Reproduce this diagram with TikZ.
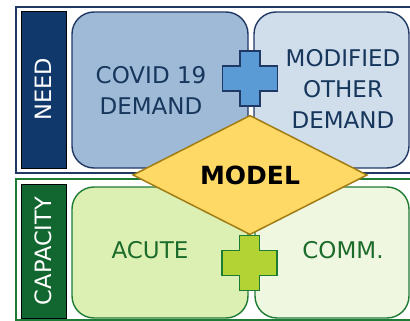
\documentclass[tikz,border=0pt]{standalone}
\usepackage{fontspec}
\setmainfont{DejaVu Sans}
\usetikzlibrary{shapes.geometric}
\definecolor{navyline}{HTML}{1F3864}
\definecolor{navyfill}{HTML}{11386B}
\definecolor{navytext}{HTML}{16365C}
\definecolor{covidfill}{HTML}{9FBAD7}
\definecolor{modfill}{HTML}{D0DEEB}
\definecolor{bluecross}{HTML}{5B9BD5}
\definecolor{greenline}{HTML}{1E7B34}
\definecolor{greenfill}{HTML}{11672F}
\definecolor{greentext}{HTML}{1B6B2B}
\definecolor{acutefill}{HTML}{DDF0B3}
\definecolor{commfill}{HTML}{F0F7E1}
\definecolor{greencross}{HTML}{B3D334}
\definecolor{goldline}{HTML}{A07C14}
\definecolor{goldfill}{HTML}{FFD966}
\begin{document}
\begin{tikzpicture}[x=1pt,y=-1pt,
  frame/.style={draw, line width=1.6pt, inner sep=0pt, outer sep=0pt},
  labelbox/.style={rotate=90, draw=black, line width=0.8pt, text=white, inner sep=0pt, outer sep=0pt, font=\fontsize{22.5}{26}\selectfont},
  box/.style={draw, rounded corners=22pt, line width=1.4pt, inner sep=0pt, outer sep=0pt},
  txt/.style={font=\fontsize{23}{31}\selectfont, align=center, inner sep=0pt},
  cross/.style={line width=1.4pt, line join=miter}
]
\useasboundingbox (0,0) rectangle (410,321);
\clip (0,0) rectangle (410,321);
% frames
\node[frame, draw=navyline, minimum width=400pt, minimum height=166pt] (needframe) at (216,90) {};
\node[frame, draw=greenline, minimum width=400pt, minimum height=141pt] (capframe) at (216,249.5) {};
% side labels
\node[labelbox, fill=navyfill, minimum width=157pt, minimum height=45pt] (need) at (43.5,89.5) {NEED};
\node[labelbox, fill=greenfill, minimum width=134pt, minimum height=45pt] (capacity) at (43.5,251) {CAPACITY};
% boxes
\node[box, draw=navyline, fill=covidfill, minimum width=176pt, minimum height=156pt] (covid) at (160,90) {};
\node[box, draw=navyline, fill=modfill, minimum width=155pt, minimum height=156pt] (modified) at (331.5,90) {};
\node[box, draw=greenline, fill=acutefill, minimum width=176pt, minimum height=131pt] (acute) at (160,252.5) {};
\node[box, draw=greenline, fill=commfill, minimum width=154pt, minimum height=131pt] (comm) at (332,252.5) {};
% texts
\node[txt, text=navytext] (covidtxt) at (151,90.5) {COVID 19\\DEMAND};
\node[txt, text=navytext] (modtxt) at (343,89) {MODIFIED\\OTHER\\DEMAND};
\node[txt, text=greentext] (acutetxt) at (150,250.5) {ACUTE};
\node[txt, text=greentext] (commtxt) at (343,250.5) {COMM.};
% crosses
\coordinate (bc) at (250,78.5);
\coordinate (gc) at (249.5,263);
\draw[cross, draw=navyline, fill=bluecross, shift={(bc)}]
  (-10,-27.5) -- (10,-27.5) -- (10,-12.5) -- (27.5,-12.5) -- (27.5,12.5) -- (10,12.5)
  -- (10,27.5) -- (-10,27.5) -- (-10,12.5) -- (-27.5,12.5) -- (-27.5,-12.5) -- (-10,-12.5) -- cycle;
\draw[cross, draw=greenline, fill=greencross, shift={(gc)}]
  (-10,-27.5) -- (10,-27.5) -- (10,-12.5) -- (27.5,-12.5) -- (27.5,12.5) -- (10,12.5)
  -- (10,27.5) -- (-10,27.5) -- (-10,12.5) -- (-27.5,12.5) -- (-27.5,-12.5) -- (-10,-12.5) -- cycle;
% model diamond
\node[diamond, draw=goldline, fill=goldfill, line width=1.5pt, minimum width=234pt, minimum height=106pt,
  inner sep=0pt, outer sep=0pt, font=\bfseries\fontsize{25}{30}\selectfont] (model) at (250,175) {MODEL};
\end{tikzpicture}
\end{document}
